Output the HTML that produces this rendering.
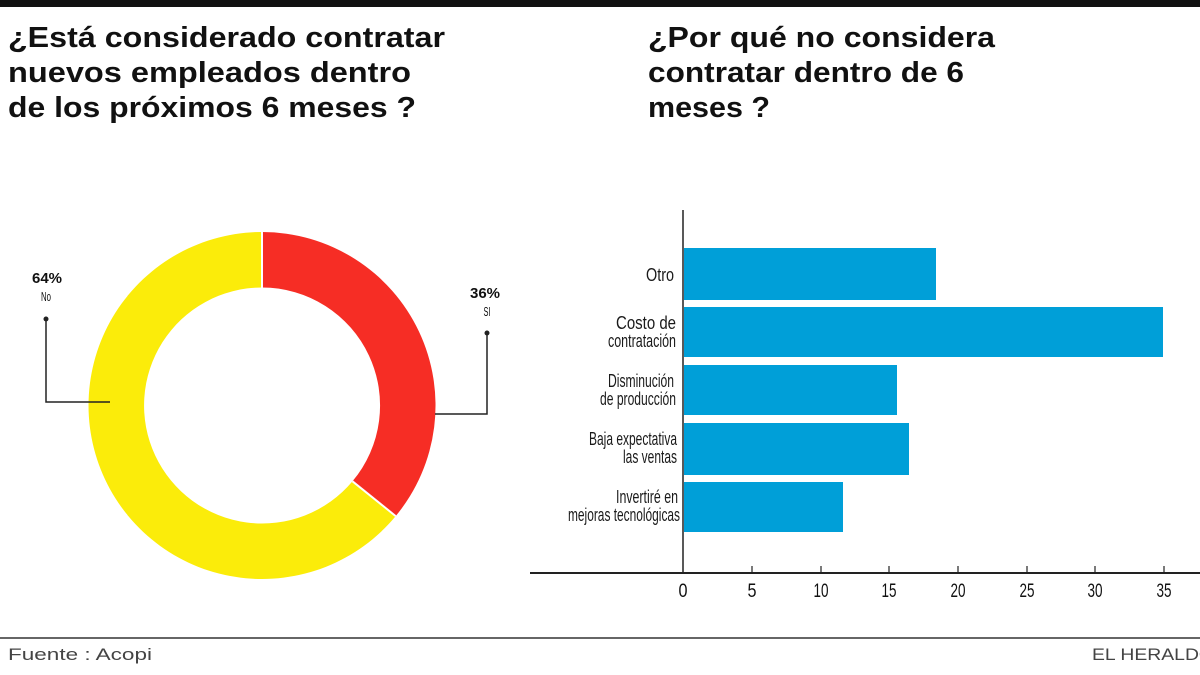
<!DOCTYPE html>
<html><head><meta charset="utf-8"><style>
html,body{margin:0;padding:0;background:#fff;width:1200px;height:675px;overflow:hidden}
</style></head><body>
<svg width="1200" height="675" xmlns="http://www.w3.org/2000/svg" font-family="Liberation Sans, sans-serif">
<rect x="0" y="0" width="1200" height="7" fill="#111"/>
<g font-weight="bold" font-size="29" fill="#111" lengthAdjust="spacingAndGlyphs">
<text x="8" y="47" textLength="437" lengthAdjust="spacingAndGlyphs">¿Está considerado contratar</text>
<text x="8" y="82" textLength="403" lengthAdjust="spacingAndGlyphs">nuevos empleados dentro</text>
<text x="8" y="117" textLength="408" lengthAdjust="spacingAndGlyphs">de los próximos 6 meses ?</text>
<text x="648" y="47" textLength="347" lengthAdjust="spacingAndGlyphs">¿Por qué no considera</text>
<text x="648" y="82" textLength="316" lengthAdjust="spacingAndGlyphs">contratar dentro de 6</text>
<text x="648" y="117" textLength="122" lengthAdjust="spacingAndGlyphs">meses ?</text>
</g>
<path d="M262 232 A173.5 173.5 0 0 1 395.7 516.1 L352.5 481.3 A118 118 0 0 0 262 287.5 Z" fill="#f62d25"/>
<path d="M395.7 516.1 A173.5 173.5 0 1 1 262 232 L262 287.5 A118 118 0 1 0 352.5 481.3 Z" fill="#fbec0a"/>
<line x1="262" y1="232" x2="262" y2="288" stroke="#fff" stroke-width="2"/>
<line x1="395.7" y1="516.1" x2="352.5" y2="481.3" stroke="#fff" stroke-width="2"/>
<g stroke="#222" stroke-width="1.5" fill="none">
<polyline points="46,320 46,402 110,402"/>
<polyline points="487,333 487,414 435,414"/>
</g>
<circle cx="46" cy="319" r="2.5" fill="#222"/>
<circle cx="487" cy="333" r="2.5" fill="#222"/>
<g font-weight="bold" font-size="15" fill="#111">
<text x="47" y="283" text-anchor="middle">64%</text>
<text x="485" y="298" text-anchor="middle">36%</text>
</g>
<g font-size="13" fill="#111">
<text x="46" y="301" text-anchor="middle" textLength="10" lengthAdjust="spacingAndGlyphs">No</text>
<text x="487" y="316" text-anchor="middle" textLength="7" lengthAdjust="spacingAndGlyphs">SI</text>
</g>
<g fill="#009fd8">
<rect x="684" y="248" width="252" height="52"/>
<rect x="684" y="307" width="479" height="50"/>
<rect x="684" y="365" width="213" height="50"/>
<rect x="684" y="423" width="225" height="52"/>
<rect x="684" y="482" width="159" height="50"/>
</g>
<line x1="683" y1="210" x2="683" y2="573" stroke="#222" stroke-width="1.5"/>
<line x1="530" y1="573" x2="1200" y2="573" stroke="#222" stroke-width="2"/>
<g stroke="#222" stroke-width="1.2">
<line x1="752" y1="566" x2="752" y2="573"/><line x1="821" y1="566" x2="821" y2="573"/>
<line x1="889" y1="566" x2="889" y2="573"/><line x1="958" y1="566" x2="958" y2="573"/>
<line x1="1027" y1="566" x2="1027" y2="573"/><line x1="1095" y1="566" x2="1095" y2="573"/>
<line x1="1164" y1="566" x2="1164" y2="573"/>
</g>
<g font-size="19" fill="#111" text-anchor="middle">
<text x="683" y="597" textLength="9" lengthAdjust="spacingAndGlyphs">0</text>
<text x="752" y="597" textLength="9" lengthAdjust="spacingAndGlyphs">5</text>
<text x="821" y="597" textLength="15" lengthAdjust="spacingAndGlyphs">10</text>
<text x="889" y="597" textLength="15" lengthAdjust="spacingAndGlyphs">15</text>
<text x="958" y="597" textLength="15" lengthAdjust="spacingAndGlyphs">20</text>
<text x="1027" y="597" textLength="15" lengthAdjust="spacingAndGlyphs">25</text>
<text x="1095" y="597" textLength="15" lengthAdjust="spacingAndGlyphs">30</text>
<text x="1164" y="597" textLength="15" lengthAdjust="spacingAndGlyphs">35</text>
</g>
<g font-size="18" fill="#1a1a1a" text-anchor="end">
<text x="674" y="281" textLength="28" lengthAdjust="spacingAndGlyphs">Otro</text>
<text x="676" y="329" textLength="60" lengthAdjust="spacingAndGlyphs">Costo de</text>
<text x="676" y="347" textLength="68" lengthAdjust="spacingAndGlyphs">contratación</text>
<text x="674" y="387" textLength="66" lengthAdjust="spacingAndGlyphs">Disminución</text>
<text x="676" y="405" textLength="76" lengthAdjust="spacingAndGlyphs">de producción</text>
<text x="677" y="445" textLength="88" lengthAdjust="spacingAndGlyphs">Baja expectativa</text>
<text x="677" y="463" textLength="54" lengthAdjust="spacingAndGlyphs">las ventas</text>
<text x="678" y="503" textLength="62" lengthAdjust="spacingAndGlyphs">Invertiré en</text>
<text x="680" y="521" textLength="112" lengthAdjust="spacingAndGlyphs">mejoras tecnológicas</text>
</g>
<line x1="0" y1="638" x2="1200" y2="638" stroke="#333" stroke-width="1.5"/>
<text x="8" y="660" font-size="17" fill="#444" textLength="144" lengthAdjust="spacingAndGlyphs">Fuente : Acopi</text>
<text x="1092" y="660" font-size="17" fill="#444" textLength="122" lengthAdjust="spacingAndGlyphs">EL HERALDO</text>
</svg>
</body></html>
